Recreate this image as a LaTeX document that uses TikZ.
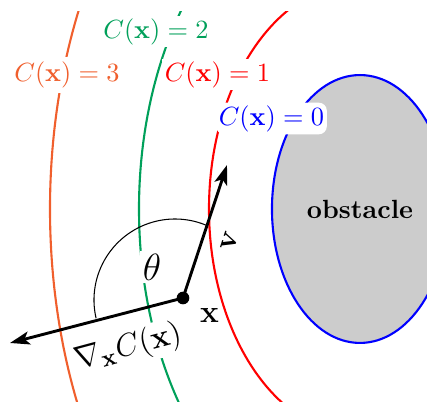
\documentclass[tikz,border=0pt]{standalone}
\usetikzlibrary{arrows.meta,shapes.geometric}
\definecolor{corange}{RGB}{240,95,45}
\definecolor{cgreen}{RGB}{0,160,90}
\begin{document}
\begin{tikzpicture}[x=0.38pt,y=-0.38pt,
  contour/.style={line width=0.8pt},
  lbl/.style={fill=white,inner sep=1pt},
  vec/.style={line width=1.1pt,-{Stealth[length=7.5pt,width=5pt,inset=1.8pt]}}]
\useasboundingbox (0,0) rectangle (427,402);
% level sets
\begin{scope}
  \clip (0,12) rectangle (427,402);
  \draw[contour,corange] (360,209) ellipse [x radius=310, y radius=472];
  \draw[contour,cgreen]  (360,209) ellipse [x radius=221, y radius=338];
  \draw[contour,red]     (360,209) ellipse [x radius=151, y radius=226];
\end{scope}
% obstacle
\begin{scope}
  \clip (0,0) rectangle (427,402);
  \node[ellipse,draw=blue,fill=gray!40,line width=0.8pt,inner sep=0pt,
        minimum width=66.9pt,minimum height=101.8pt] (obs) at (360,209) {\textbf{obstacle}};
\end{scope}
% level-set labels
\node[lbl,inner sep=2pt,text=corange] (l3) at (67,75) {$C(\mathbf{x})=3$};
\node[lbl,text=cgreen] (l2) at (156,31.5) {$C(\mathbf{x})=2$};
\node[lbl,text=red] (l1) at (217.5,74.5) {$C(\mathbf{x})=1$};
\node[lbl,text=blue,rounded corners=3pt] (l0) at (271.5,118.5) {$C(\mathbf{x})=0$};
% angle arc
\draw[line width=0.4pt] (175,300) ++(167:81) arc[start angle=167, end angle=293, radius=81];
% vectors
\coordinate (xp) at (183,298);
\coordinate (vtip) at (227,165);
\coordinate (gtip) at (10,343);
\draw[vec] (xp) -- (vtip);
\draw[vec] (xp) -- (gtip);
\fill (xp) circle[radius=2.4pt];
% labels
\node[lbl] (th) at (152,267) {\Large$\theta$};
\node[lbl] (xl) at (209.5,315) {\large$\mathbf{x}$};
\node[rotate=72,inner sep=0pt] (vl) at (229.5,241) {\large$\mathbf{v}$};
\node[lbl,rotate=15] (gl) at (128,348) {\fontsize{13}{15}\selectfont$\nabla_{\mathbf{x}} C(\mathbf{x})$};
\end{tikzpicture}
\end{document}
